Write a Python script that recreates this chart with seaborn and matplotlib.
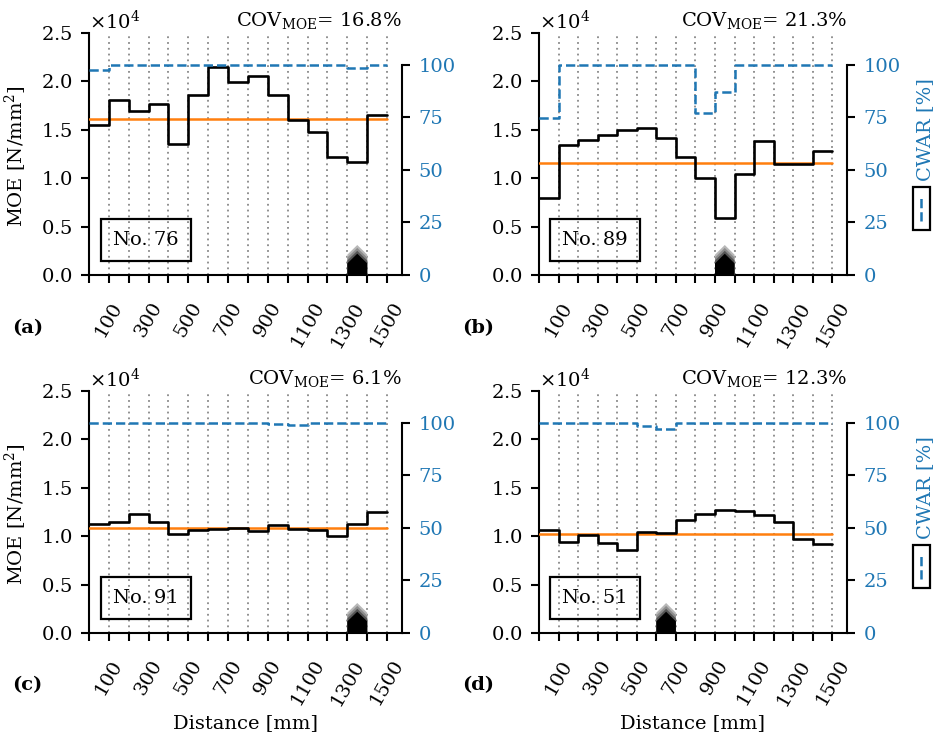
import matplotlib
matplotlib.use("Agg")
import matplotlib.pyplot as plt
import numpy as np
import pandas as pd
import seaborn as sns
from matplotlib.ticker import ScalarFormatter
from matplotlib.patches import Rectangle
from matplotlib.lines import Line2D

# ---- data -------------------------------------------------------------
# segment edges along the board [mm]
distance = [0, 100, 200, 300, 400, 500, 600, 700, 800, 900,
            1000, 1100, 1200, 1300, 1400, 1500]
tick_labels = ["", "100", "", "300", "", "500", "", "700", "", "900",
               "", "1100", "", "1300", "", "1500"]

specimens = ["No. 76", "No. 89", "No. 91", "No. 51"]
panel_tags = ["(a)", "(b)", "(c)", "(d)"]
cov_moe = ["16.8%", "21.3%", "6.1%", "12.3%"]

# local MOE per 100 mm segment [N/mm^2]
moe_76 = [15520, 18100, 16900, 17690, 13550, 18550, 21480, 19970, 20590,
          18590, 16030, 14760, 12240, 11690, 16550]
moe_89 = [7930, 13480, 13900, 14450, 15000, 15210, 14140, 12140, 10000,
          5860, 10410, 13830, 11450, 11450, 12760]
moe_91 = [11290, 11430, 12260, 11500, 10260, 10670, 10710, 10850, 10540,
          11120, 10780, 10640, 9990, 11290, 12500]
moe_51 = [10610, 9400, 10090, 9330, 8540, 10430, 10330, 11640, 12330,
          12670, 12570, 12160, 11430, 9710, 9230]

# global (mean) MOE of each board [N/mm^2]
moe_global = [16140, 11550, 10880, 10260]

# clear wood area ratio per segment [%]
cwar_76 = [97.6, 100, 100, 100, 100, 100, 100, 100, 100, 100,
           100, 100, 100, 98.7, 100]
cwar_89 = [74.6, 100, 100, 100, 100, 100, 100, 100, 77.1, 87.0,
           100, 100, 100, 100, 100]
cwar_91 = [100, 100, 100, 100, 100, 100, 100, 100, 100, 99.5,
           98.9, 100, 100, 100, 100]
cwar_51 = [100, 100, 100, 100, 100, 98.4, 96.9, 100, 100, 100,
           100, 100, 100, 100, 100]

# knot segment (start, end) [mm]
knot_span = [(1300, 1400), (900, 1000), (1300, 1400), (600, 700)]

moe_sets = [moe_76, moe_89, moe_91, moe_51]
cwar_sets = [cwar_76, cwar_89, cwar_91, cwar_51]

# ---- style ------------------------------------------------------------
sns.set_theme(style="ticks")
FS = 14
plt.rcParams.update({
    "font.family": ["DejaVu Serif"],
    "mathtext.fontset": "dejavuserif",
    "font.size": FS,
    "axes.labelsize": FS,
    "xtick.labelsize": FS,
    "ytick.labelsize": FS,
    "axes.linewidth": 1.5,
    "xtick.major.width": 1.5,
    "ytick.major.width": 1.5,
    "xtick.major.size": 6,
    "ytick.major.size": 6,
    "xtick.color": "black",
    "ytick.color": "black",
    "axes.edgecolor": "black",
    "text.color": "black",
    "axes.labelcolor": "black",
})

BLUE = "#1f77b4"
ORANGE = "#ff7f0e"

W, H = 950, 734
fig = plt.figure(figsize=(W / 100, H / 100), dpi=100)

# axes boxes in pixels: left, right, top, bottom
boxes = [(89, 402, 33, 275), (539, 847, 33, 275),
         (89, 402, 391, 633), (539, 847, 391, 633)]
tag_xy = [(12, 333), (462, 333), (12, 690), (462, 690)]

# stacked knot glyph layers: colour, shoulder height, apex height
knot_layers = [("#b8b8b8", 2100, 3100), ("#8c8c8c", 1800, 2800),
               ("#555555", 1500, 2500), ("black", 1200, 2200)]

for i in range(4):
    l, r, t, b = boxes[i]
    ax = fig.add_axes([l / W, 1 - b / H, (r - l) / W, (b - t) / H])

    moe = moe_sets[i]
    cwar = cwar_sets[i]
    df = pd.DataFrame({"Distance": distance,
                       "MOE": moe + [moe[-1]],
                       "CWAR": cwar + [cwar[-1]]})

    # global MOE
    ax.plot([distance[0], distance[-1]], [moe_global[i]] * 2,
            color=ORANGE, lw=1.8, zorder=3)
    # local MOE profile
    sns.lineplot(data=df, x="Distance", y="MOE", ax=ax, color="black",
                 lw=1.9, drawstyle="steps-post", estimator=None, zorder=4)

    # knot glyph
    k0, k1 = knot_span[i]
    km = (k0 + k1) / 2
    for col, sh, ap in knot_layers:
        ax.fill([k0, k0, km, k1, k1], [0, sh, ap, sh, 0], color=col,
                lw=0, zorder=5)

    ax.set_xlim(0, 1575)
    ax.set_ylim(0, 25000)
    ax.set_xticks(distance)
    ax.set_xticklabels(tick_labels, rotation=60)
    ax.set_yticks([0, 5000, 10000, 15000, 20000, 25000])
    fmt = ScalarFormatter(useMathText=True)
    fmt.set_powerlimits((0, 0))
    ax.yaxis.set_major_formatter(fmt)
    ax.yaxis.get_offset_text().set_fontsize(FS)
    ax.tick_params(axis="x", direction="out", pad=11)
    ax.tick_params(axis="y", direction="out", pad=6)
    ax.xaxis.grid(True, ls=(0, (1, 2.2)), color="#888888", lw=1.3)
    ax.yaxis.grid(False)
    ax.spines["top"].set_visible(False)
    ax.spines["right"].set_visible(False)

    ax.set_xlabel("Distance [mm]" if i >= 2 else "")
    if i % 2 == 0:
        ax.set_ylabel("MOE [N/mm$^2$]")
        ax.yaxis.set_label_coords(-0.193, 0.49)
    else:
        ax.set_ylabel("")

    ax.text(1.0, 1.01, "COV$_{\\mathrm{MOE}}$= " + cov_moe[i],
            transform=ax.transAxes, ha="right", va="bottom")
    ax.text(0.181, 0.143, specimens[i], transform=ax.transAxes,
            ha="center", va="center", zorder=6,
            bbox=dict(boxstyle="square,pad=0.62", fc="none", ec="black",
                      lw=1.6))

    # CWAR on the secondary axis
    ax2 = ax.twinx()
    sns.lineplot(data=df, x="Distance", y="CWAR", ax=ax2, color=BLUE,
                 lw=1.8, ls="--", drawstyle="steps-post", estimator=None)
    ax2.set_ylim(0, 115.2)
    ax2.set_yticks([0, 25, 50, 75, 100])
    ax2.tick_params(axis="y", direction="out", labelcolor=BLUE, pad=6)
    ax2.spines["right"].set_bounds(0, 100)
    for s in ("top", "left", "bottom"):
        ax2.spines[s].set_visible(False)
    ax2.grid(False)
    ax2.set_xlabel("")
    if i % 2 == 1:
        ax2.set_ylabel("CWAR [%]", color=BLUE)
        ax2.yaxis.set_label_coords(1.225, 0.603)
        ax2.add_patch(Rectangle((1.214, 0.186), 0.055, 0.178,
                                transform=ax2.transAxes, fc="none",
                                ec="black", lw=1.6, clip_on=False))
        ax2.add_line(Line2D([1.2415, 1.2415], [0.225, 0.325],
                            transform=ax2.transAxes, color=BLUE, lw=1.8,
                            ls="--", clip_on=False))
    else:
        ax2.set_ylabel("")

    fig.text(tag_xy[i][0] / W, 1 - tag_xy[i][1] / H, panel_tags[i],
             fontweight="bold", ha="left", va="baseline")

fig.savefig("out.png", dpi=100)
